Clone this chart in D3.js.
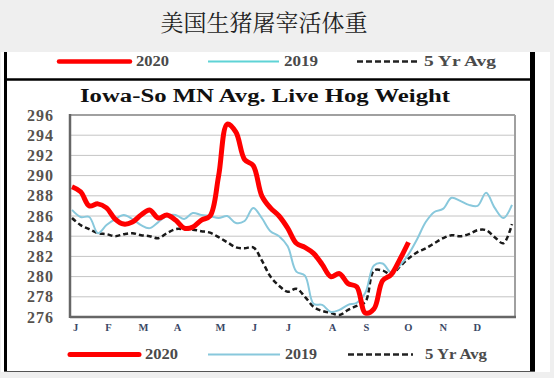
<!DOCTYPE html>
<html>
<head>
<meta charset="utf-8">
<script src="https://cdn.jsdelivr.net/npm/d3@7"></script>
<style>
  html, body { margin: 0; padding: 0; background: #efefef; }
  svg { display: block; }
</style>
</head>
<body>
<svg id="chart" width="554" height="378"></svg>
<script>
// ---- data ----
const weeks = d3.range(1, 53);
const values2020 = [288.9, 288.4, 287.0, 287.2, 286.8, 285.7, 285.2, 285.4, 286.1, 286.6,
  285.8, 286.1, 285.6, 284.8, 284.9, 285.6, 286.0, 290.0, 295.1, 294.3,
  291.6, 291.0, 288.0, 286.8, 286.0, 284.8, 283.3, 282.9, 282.3, 281.2,
  280.0, 280.3, 279.3, 279.0, 276.4, 276.8, 279.6, 280.2, 281.7, 283.4];
const values2019 = [286.6, 285.9, 285.9, 284.3, 285.1, 285.7, 286.1, 285.7, 285.1, 284.8,
  285.4, 286.0, 286.1, 285.7, 286.3, 286.1, 286.0, 285.8, 286.0, 285.3,
  285.5, 286.8, 285.8, 284.5, 284.0, 283.0, 280.5, 280.1, 277.3, 277.2,
  276.5, 276.7, 277.2, 277.4, 278.4, 281.1, 281.3, 280.4, 281.1, 282.2,
  283.7, 285.4, 286.4, 286.7, 287.8, 287.5, 287.1, 287.0, 288.3, 286.8,
  285.8, 287.1];
const values5yr = [285.8, 285.1, 284.7, 284.3, 284.2, 284.0, 284.2, 284.3, 284.1, 284.0,
  283.8, 284.3, 284.7, 284.7, 284.65, 284.5, 284.35, 283.9, 283.4, 282.9,
  282.8, 282.9, 281.6, 280.0, 279.1, 278.5, 278.8, 278.0, 277.0, 276.6,
  276.4, 276.2, 276.7, 277.1, 277.5, 280.6, 280.6, 280.2, 281.0, 281.8,
  282.4, 282.8, 283.3, 283.8, 284.1, 284.0, 284.2, 284.6, 284.6, 283.9,
  283.3, 285.2];
const monthLabels = ["J", "F", "M", "A", "M", "J", "J", "A", "S", "O", "N", "D"];
const monthTickWeeks = [1.35, 5.17, 9.23, 13.17, 18.15, 22.09, 26.03, 31.13, 35.07, 39.93, 43.99, 47.93];
const yTicks = [276, 278, 280, 282, 284, 286, 288, 290, 292, 294, 296];
const seriesNames = ["2020", "2019", "5 Yr Avg"];
const pageTitle = "美国生猪屠宰活体重";
const chartTitle = "Iowa-So MN Avg. Live Hog Weight";

// ---- drawing ----
const svg = d3.select("#chart");
const serif = "'Liberation Serif', 'Times New Roman', serif";

// page title
svg.append("text")
  .attr("x", 264).attr("y", 31)
  .attr("text-anchor", "middle")
  .attr("font-family", "'Noto Serif CJK SC', 'Noto Sans CJK SC', serif")
  .attr("font-size", 23)
  .attr("fill", "#222")
  .text(pageTitle);

// white panel
svg.append("rect").attr("x", 1).attr("y", 52).attr("width", 549).attr("height", 320).attr("fill", "#ffffff");
// frame lines
svg.append("line").attr("x1", 5.5).attr("x2", 5.5).attr("y1", 52).attr("y2", 372).attr("stroke", "#000").attr("stroke-width", 3);
svg.append("line").attr("x1", 532.5).attr("x2", 532.5).attr("y1", 52).attr("y2", 372).attr("stroke", "#000").attr("stroke-width", 5);
svg.append("line").attr("x1", 4).attr("x2", 535).attr("y1", 79.5).attr("y2", 79.5).attr("stroke", "#000").attr("stroke-width", 2.5);
svg.append("line").attr("x1", 4).attr("x2", 535).attr("y1", 371.5).attr("y2", 371.5).attr("stroke", "#555").attr("stroke-width", 1);

// scales
const x = d3.scaleLinear().domain([1, 52]).range([72, 512]);
const y = d3.scaleLinear().domain([276, 296]).range([317, 115]);
const plotL = 70, plotR = 515, plotT = y(296), plotB = y(276);

// gridlines
svg.append("g").selectAll("line").data(yTicks.slice(1, -1)).join("line")
  .attr("x1", plotL).attr("x2", plotR)
  .attr("y1", d => y(d)).attr("y2", d => y(d))
  .attr("stroke", "#c4c4c4").attr("stroke-width", 1);

// plot frame
svg.append("line").attr("x1", plotL).attr("x2", plotR).attr("y1", plotT).attr("y2", plotT).attr("stroke", "#a0a0a0").attr("stroke-width", 2);
svg.append("line").attr("x1", plotR).attr("x2", plotR).attr("y1", plotT).attr("y2", plotB).attr("stroke", "#a0a0a0").attr("stroke-width", 2);
svg.append("line").attr("x1", plotL).attr("x2", plotL).attr("y1", plotT - 1).attr("y2", plotB + 1).attr("stroke", "#666").attr("stroke-width", 2.5);
svg.append("line").attr("x1", plotL).attr("x2", plotR + 1).attr("y1", plotB).attr("y2", plotB).attr("stroke", "#666").attr("stroke-width", 2.5);

// y axis
const yAxis = svg.append("g").attr("transform", `translate(${plotL},0)`)
  .call(d3.axisLeft(y).tickValues(yTicks).tickSize(0).tickPadding(16).tickFormat(d3.format("d")));
yAxis.select(".domain").remove();
yAxis.selectAll("text")
  .attr("font-family", serif).attr("font-size", 16).attr("font-weight", "bold")
  .attr("fill", "#56524e").attr("letter-spacing", "1px");

// x axis
const xAxis = svg.append("g").attr("transform", `translate(0,${plotB})`)
  .call(d3.axisBottom(x).tickValues(monthTickWeeks).tickSize(0).tickPadding(7)
    .tickFormat((d, i) => monthLabels[i]));
xAxis.select(".domain").remove();
xAxis.selectAll("text")
  .attr("font-family", serif).attr("font-size", 10.5).attr("font-weight", "bold")
  .attr("fill", "#3a4866");

// chart title
svg.append("text")
  .attr("x", 80).attr("y", 102)
  .attr("font-family", serif).attr("font-size", 18).attr("font-weight", "bold")
  .attr("fill", "#111")
  .attr("textLength", 370).attr("lengthAdjust", "spacingAndGlyphs")
  .text(chartTitle);

// lines
const line = d3.line().x((d, i) => x(weeks[i])).y(d => y(d)).curve(d3.curveCatmullRom.alpha(0.5));
svg.append("path").datum(values5yr).attr("d", line)
  .attr("fill", "none").attr("stroke", "#1a1a1a").attr("stroke-width", 2.5).attr("stroke-dasharray", "5,3");
svg.append("path").datum(values2019).attr("d", line)
  .attr("fill", "none").attr("stroke", "#88c8dc").attr("stroke-width", 2);
svg.append("path").datum(values2020).attr("d", line)
  .attr("fill", "none").attr("stroke", "#ff0000").attr("stroke-width", 5).attr("stroke-linejoin", "round");

// legends
function legend(yPos, items) {
  const g = svg.append("g");
  items.forEach(it => {
    g.append("line").attr("x1", it.x1).attr("x2", it.x2).attr("y1", yPos).attr("y2", yPos)
      .attr("stroke", it.color).attr("stroke-width", it.w)
      .attr("stroke-dasharray", it.dash || null).attr("stroke-linecap", it.cap || "butt");
    g.append("text").attr("x", it.tx).attr("y", yPos + 4.5)
      .attr("font-family", serif).attr("font-size", 14).attr("font-weight", "bold")
      .attr("fill", "#4a4a4a")
      .attr("textLength", it.tw).attr("lengthAdjust", "spacingAndGlyphs")
      .text(it.name);
  });
}
legend(61.5, [
  { name: seriesNames[0], x1: 59, x2: 130, color: "#ff0000", w: 4.5, cap: "round", tx: 136, tw: 33 },
  { name: seriesNames[1], x1: 208, x2: 279, color: "#5fd3d6", w: 2, tx: 284, tw: 34 },
  { name: seriesNames[2], x1: 357, x2: 419, color: "#222", w: 2.5, dash: "6,3", tx: 424, tw: 72 }
]);
legend(354.5, [
  { name: seriesNames[0], x1: 70, x2: 139, color: "#ff0000", w: 5, cap: "round", tx: 145, tw: 33 },
  { name: seriesNames[1], x1: 208, x2: 280, color: "#88c8dc", w: 2, tx: 285, tw: 32 },
  { name: seriesNames[2], x1: 348, x2: 413, color: "#222", w: 2.5, dash: "6,3", tx: 425, tw: 62 }
]);
</script>
</body>
</html>
